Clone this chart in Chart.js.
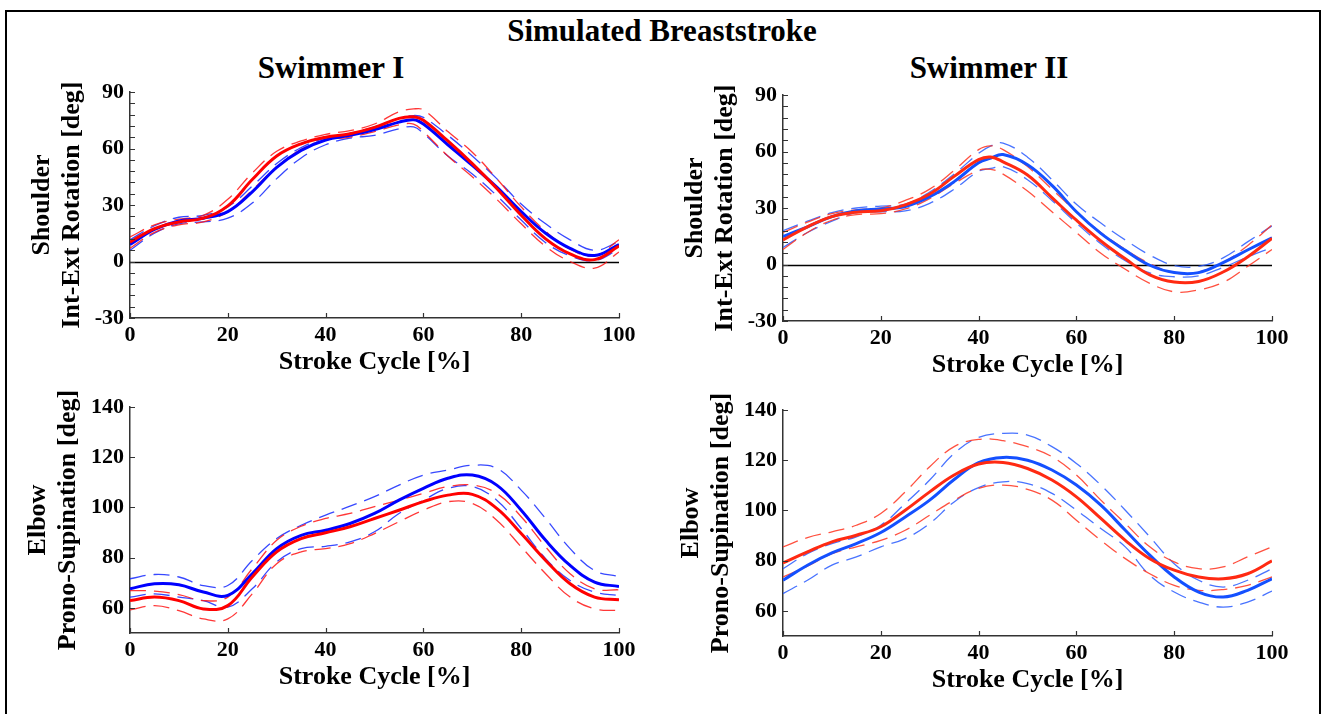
<!DOCTYPE html>
<html>
<head>
<meta charset="utf-8">
<title>Simulated Breaststroke</title>
<script src="https://cdn.jsdelivr.net/npm/chart.js@4.4.1/dist/chart.umd.min.js"></script>
<style>
  body { margin: 0; width: 1322px; height: 714px; background: #fff; overflow: hidden; position: relative; font-family: 'Liberation Serif', 'Times New Roman', serif; }
  .frame { position: absolute; left: 5px; top: 10px; width: 1316px; height: 720px; border: 2px solid #000; box-sizing: border-box; }
  .label { position: absolute; transform: translateX(-50%); white-space: nowrap; font-weight: bold; color: #000; font-size: 31px; line-height: 31px; }
  canvas { position: absolute; }
</style>
</head>
<body>
<div class="frame"></div>
<div class="label" style="left:662px; top:15px;">Simulated Breaststroke</div>
<div class="label" style="left:331px; top:52px;">Swimmer I</div>
<div class="label" style="left:989px; top:52px;">Swimmer II</div>

<canvas id="c1" width="636" height="311" style="left:5px; top:72px;"></canvas>
<canvas id="c2" width="636" height="311" style="left:658px; top:75px;"></canvas>
<canvas id="c3" width="636" height="311" style="left:5px; top:387px;"></canvas>
<canvas id="c4" width="636" height="311" style="left:658px; top:390px;"></canvas>

<script>
// tick values
const xTicks = [0, 20, 40, 60, 80, 100];
const shoulderTicks = [-30, 0, 30, 60, 90];
const elbowTicks = [60, 80, 100, 120, 140];

// Swimmer I - shoulder int-ext rotation
const xs1 = [0, 5, 10, 15, 20, 25, 30, 35, 40, 45, 50, 55, 58, 60, 65, 70, 75, 80, 85, 90, 95, 100];
const blueMean1 = [9, 17, 21.5, 23, 26.5, 37, 50, 59, 64.5, 67, 70, 74, 75.3, 73, 62, 51, 39.5, 26.5, 15, 7, 3.2, 9];
const blueUp1 = [11.5, 19, 23.5, 24.5, 29, 40, 52, 60.5, 65.5, 68, 71.5, 76, 77.5, 76.5, 67, 56, 44, 30.5, 20, 11.5, 6, 10.5];
const blueLo1 = [6, 15, 20, 21, 23, 31, 44, 55, 62, 65.5, 67, 70.5, 71.5, 68, 56, 46.5, 35, 22, 10, 3, 0.5, 6.5];
const redMean1 = [10.3, 17.5, 21, 23, 29.5, 43.5, 56, 62.5, 66, 67.8, 71.2, 76, 76.8, 75, 64, 52, 38.8, 24.6, 12, 4, 1, 8.2];
const redUp1 = [13, 19.5, 22.5, 24.5, 33, 47, 58.5, 64, 67.5, 69.5, 73, 79.5, 81, 80.5, 69, 58, 44, 29, 16, 6.5, 3, 11.5];
const redLo1 = [7, 15.5, 19.5, 21, 26.5, 38, 50, 59.5, 64.5, 66, 69, 72.5, 73, 69, 56, 45, 33, 20, 8, 0, -3.5, 5];

// Swimmer II - shoulder int-ext rotation
const xs2 = [0, 5, 10, 15, 20, 25, 30, 35, 40, 42.5, 45, 50, 55, 60, 65, 70, 75, 80, 85, 90, 95, 100];
const blueMean2 = [14.8, 20, 25.4, 28.5, 29.5, 30.8, 36, 44, 54, 56.5, 58.4, 53, 42, 28, 16.5, 7.5, -0.4, -4.3, -4.3, 1, 7.7, 14.2];
const blueUp2 = [18, 23, 27.5, 30, 31, 32, 38.5, 48, 59, 63, 64.5, 57, 45, 32, 22, 13, 5, -0.5, -1, 3.5, 12, 20.5];
const blueLo2 = [9, 17, 23, 27.5, 28, 28.5, 32.5, 40, 49.5, 51, 52, 45, 34, 22, 11, 2, -4.5, -6.5, -6, -1.5, 4, 9];
const redMean2 = [13, 20, 25.4, 27.8, 28.5, 31.7, 37.4, 46.8, 55.7, 57.1, 54.5, 47.5, 35.5, 23.5, 12.5, 3, -5.5, -9.3, -9, -4, 4, 13.9];
const redUp2 = [17, 22.5, 27, 29, 30, 34, 40, 50, 61, 63, 61, 52, 40, 28, 17, 8, 0.5, -4.5, -4, 1, 10, 21];
const redLo2 = [8, 17, 23.5, 26.5, 27, 29.5, 35, 43, 50, 50.5, 48, 39, 28, 17, 6, -2.5, -10, -14.5, -13.5, -9.5, -1, 8];

// Swimmer I - elbow prono-supination
const xs3 = [0, 5, 10, 15, 20, 25, 30, 35, 40, 45, 50, 55, 60, 65, 70, 75, 80, 85, 90, 95, 100];
const blueMean3 = [67.6, 69.6, 69.2, 66.3, 65, 73.6, 83.6, 88.9, 90.9, 93.6, 97.6, 102.9, 107.6, 111.6, 112.9, 108.9, 98.9, 86.9, 76.9, 70.3, 68.5];
const blueUp3 = [71.6, 73.3, 72.3, 68.9, 68.9, 78.9, 87.6, 92.9, 96.9, 100.5, 104.3, 108.9, 112.9, 114.9, 116.8, 115.6, 106.9, 95.6, 83.6, 74.9, 72.5];
const blueLo3 = [64.3, 65.6, 64.3, 62.9, 60.3, 67.6, 78.3, 83.6, 84.5, 86.3, 90.3, 97.6, 102.9, 107.6, 108.3, 102.9, 91.6, 79.6, 70.9, 66.3, 64.9];
const redMean3 = [62.9, 64.3, 62.9, 59.6, 60.9, 72.3, 82.3, 87.6, 89.9, 92.3, 95.6, 98.9, 102.3, 104.9, 105.2, 99.6, 89.6, 78.9, 69.6, 64.3, 63.2];
const redUp3 = [66.9, 66.7, 65.3, 62.9, 64.3, 75.6, 86.9, 92.5, 95.6, 97.6, 100.3, 102.9, 105.6, 108.3, 108.9, 105.6, 96.3, 84.3, 73.6, 67.6, 67.2];
const redLo3 = [59.2, 60.9, 58.9, 55.6, 55.6, 65.6, 77.6, 82.3, 83.6, 85.6, 89.6, 94.3, 98.9, 102.3, 101.6, 94.9, 84.3, 73.6, 64.3, 59.6, 58.9];

// Swimmer II - elbow prono-supination
const xs4 = [0, 5, 10, 15, 20, 25, 30, 35, 40, 45, 50, 55, 60, 65, 70, 75, 80, 85, 90, 95, 100];
const blueMean4 = [72.2, 78.2, 83.1, 86.8, 91.2, 97.4, 104.1, 112.3, 119, 121.1, 120, 116.1, 110.1, 102.1, 92.1, 82.2, 73.5, 67.5, 65.5, 68.2, 72.8];
const blueUp4 = [76.8, 82.8, 86.8, 89.5, 94.1, 102.8, 112.1, 122.7, 129.1, 130.7, 130, 125.4, 118.7, 110.1, 100.1, 89.5, 78.8, 72.2, 69.5, 72.2, 76.8];
const blueLo4 = [66.9, 72.2, 78.2, 81.5, 85.5, 88.8, 94.8, 103.4, 109.1, 111.4, 110.7, 106.8, 100.1, 92.8, 85.5, 74.2, 67.5, 63.5, 61.5, 63.5, 67.9];
const redMean4 = [79.1, 83.5, 87.5, 90.1, 93.5, 100.1, 107.4, 114.1, 118.5, 119.1, 116.7, 112.1, 105.4, 96.8, 88.1, 80.8, 76.2, 73.5, 72.8, 74.8, 79.9];
const redUp4 = [85.5, 89.2, 91.5, 94.1, 98.8, 107.4, 117.4, 125.4, 128.3, 127.8, 125.4, 121.4, 114.1, 104.1, 94.8, 85.5, 79.5, 76.8, 77.5, 81.5, 85.5];
const redLo4 = [73.5, 77.8, 82.8, 85.5, 88.1, 92.1, 98.1, 104.1, 108.8, 110.1, 108.4, 104.1, 96.1, 88.1, 80.8, 74.8, 70.2, 68.2, 68.5, 70.2, 73.5];

Chart.defaults.font.family = "'Liberation Serif', 'Times New Roman', serif";
Chart.defaults.font.weight = 'bold';
Chart.defaults.color = '#000';

const pts = (xs, ys) => xs.map((x, i) => ({ x: x, y: ys[i] }));

// ticks point into the plot, plus the zero reference line
const axisMarks = {
  id: 'axisMarks',
  beforeDatasetsDraw(chart, args, opts) {
    if (!opts.zeroLine) return;
    const { ctx, chartArea: a, scales: { y } } = chart;
    const py = Math.round(y.getPixelForValue(0)) + 0.5;
    ctx.save();
    ctx.strokeStyle = '#000';
    ctx.lineWidth = 1.5;
    ctx.beginPath();
    ctx.moveTo(a.left, py);
    ctx.lineTo(a.right, py);
    ctx.stroke();
    ctx.restore();
  },
  afterDatasetsDraw(chart, args, opts) {
    const { ctx, chartArea: a, scales: { x, y } } = chart;
    ctx.save();
    ctx.strokeStyle = '#333';
    ctx.lineWidth = 1.2;
    ctx.beginPath();
    x.ticks.forEach(t => {
      const px = Math.round(x.getPixelForValue(t.value)) + 0.5;
      ctx.moveTo(px, a.bottom);
      ctx.lineTo(px, a.bottom - 5);
    });
    const yVals = y.ticks.map(t => t.value);
    if (opts.minorStep) {
      for (let v = y.min; v <= y.max; v += opts.minorStep) yVals.push(v);
    }
    yVals.forEach(v => {
      const py = Math.round(y.getPixelForValue(v)) + 0.5;
      ctx.moveTo(a.left, py);
      ctx.lineTo(a.left + 5, py);
    });
    ctx.stroke();
    ctx.restore();
  }
};

function makeChart(id, cfg) {
  const line = (data, color, mean, order) => ({
    data: data,
    borderColor: color,
    borderWidth: mean ? 3 : 1.3,
    borderDash: mean ? [] : [16, 8],
    pointRadius: 0,
    tension: 0.4,
    fill: false,
    order: order
  });
  return new Chart(document.getElementById(id), {
    type: 'line',
    data: {
      datasets: [
        line(pts(cfg.xs, cfg.redMean), cfg.red, true, 0),
        line(pts(cfg.xs, cfg.blueMean), cfg.blue, true, 1),
        line(pts(cfg.xs, cfg.redUp), cfg.redDash, false, 2),
        line(pts(cfg.xs, cfg.redLo), cfg.redDash, false, 2),
        line(pts(cfg.xs, cfg.blueUp), cfg.blueDash, false, 3),
        line(pts(cfg.xs, cfg.blueLo), cfg.blueDash, false, 3)
      ]
    },
    options: {
      responsive: false,
      animation: false,
      layout: { padding: { top: 20, right: 22, left: 0, bottom: 0 } },
      plugins: {
        legend: { display: false },
        tooltip: { enabled: false },
        axisMarks: { minorStep: cfg.minorStep, zeroLine: cfg.zeroLine }
      },
      scales: {
        x: {
          type: 'linear',
          min: 0,
          max: 100,
          afterBuildTicks: s => { s.ticks = xTicks.map(v => ({ value: v })); },
          afterFit: s => { s.height = 65; },
          grid: { display: false, drawTicks: false },
          border: { display: true, color: '#333', width: 1.5 },
          ticks: { color: '#000', padding: 4, font: { size: 22, weight: 'bold' } },
          title: {
            display: true,
            text: 'Stroke Cycle [%]',
            color: '#000',
            font: { size: 26, weight: 'bold', lineHeight: 1.15 },
            padding: { top: 0, bottom: 6 }
          }
        },
        y: {
          min: cfg.yMin,
          max: cfg.yMax,
          afterBuildTicks: s => { s.ticks = cfg.yTicks.map(v => ({ value: v })); },
          afterFit: s => { s.width = 125; },
          grid: { display: false, drawTicks: false },
          border: { display: true, color: '#333', width: 1.5 },
          ticks: { color: '#000', padding: 6, font: { size: 22, weight: 'bold' } },
          title: {
            display: true,
            text: cfg.yTitle,
            color: '#000',
            font: { size: 26, weight: 'bold', lineHeight: 1.15 },
            padding: { top: cfg.titlePad, bottom: 0 }
          }
        }
      }
    },
    plugins: [axisMarks]
  });
}

const colI = { blue: '#0000ff', red: '#ff0000', blueDash: 'rgba(20,40,255,0.85)', redDash: 'rgba(255,20,20,0.85)' };
const colII = { blue: '#1450ff', red: '#ff2a12', blueDash: 'rgba(40,90,255,0.85)', redDash: 'rgba(255,50,30,0.85)' };

makeChart('c1', Object.assign({
  xs: xs1, blueMean: blueMean1, blueUp: blueUp1, blueLo: blueLo1, redMean: redMean1, redUp: redUp1, redLo: redLo1,
  yMin: -30, yMax: 90, yTicks: shoulderTicks, minorStep: 6, zeroLine: true,
  yTitle: ['Shoulder', 'Int-Ext Rotation [deg]'], titlePad: 22
}, colI));

makeChart('c2', Object.assign({
  xs: xs2, blueMean: blueMean2, blueUp: blueUp2, blueLo: blueLo2, redMean: redMean2, redUp: redUp2, redLo: redLo2,
  yMin: -30, yMax: 90, yTicks: shoulderTicks, minorStep: 6, zeroLine: true,
  yTitle: ['Shoulder', 'Int-Ext Rotation [deg]'], titlePad: 22
}, colII));

makeChart('c3', Object.assign({
  xs: xs3, blueMean: blueMean3, blueUp: blueUp3, blueLo: blueLo3, redMean: redMean3, redUp: redUp3, redLo: redLo3,
  yMin: 50, yMax: 140, yTicks: elbowTicks, minorStep: 0, zeroLine: false,
  yTitle: ['Elbow', 'Prono-Supination [deg]'], titlePad: 18
}, colI));

makeChart('c4', Object.assign({
  xs: xs4, blueMean: blueMean4, blueUp: blueUp4, blueLo: blueLo4, redMean: redMean4, redUp: redUp4, redLo: redLo4,
  yMin: 50, yMax: 140, yTicks: elbowTicks, minorStep: 0, zeroLine: false,
  yTitle: ['Elbow', 'Prono-Supination [deg]'], titlePad: 18
}, colII));
</script>
</body>
</html>
